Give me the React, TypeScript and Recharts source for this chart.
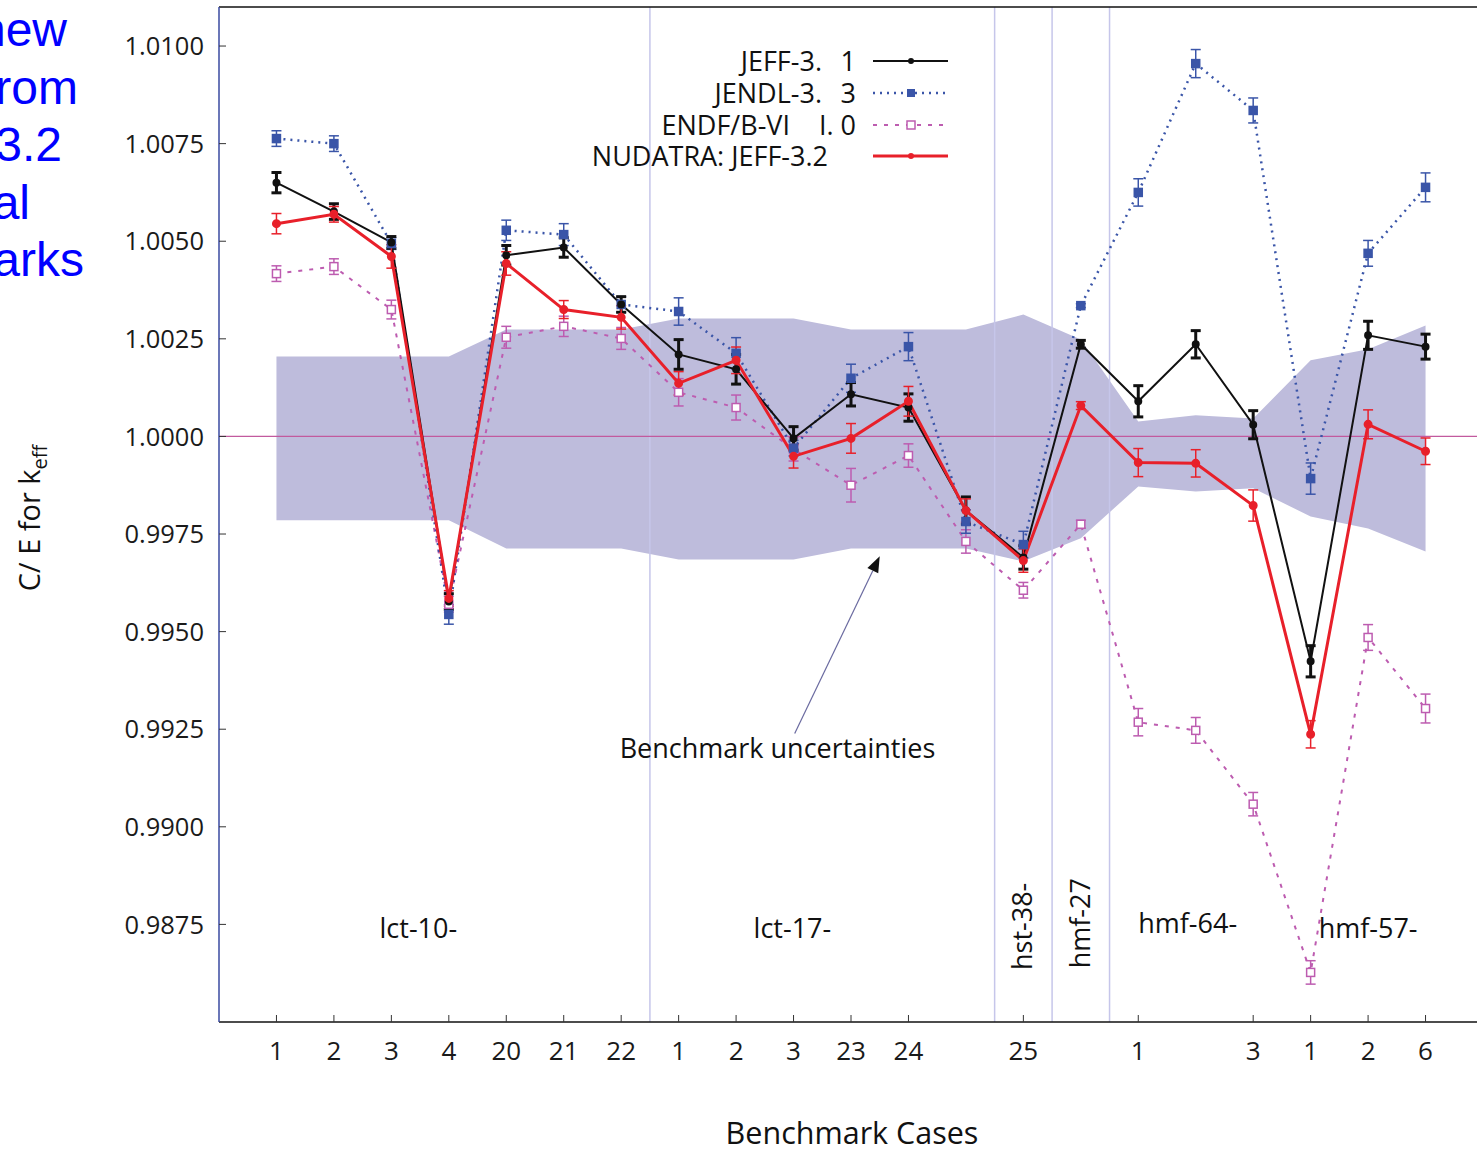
import React from "react";
import {
  Area,
  ComposedChart,
  ErrorBar,
  Legend,
  Line,
  ReferenceDot,
  ReferenceLine,
  XAxis,
  YAxis,
} from "recharts";

// case labels along the x axis (blank = no tick label)
const caseLabels = ["1", "2", "3", "4", "20", "21", "22", "1", "2", "3", "23", "24", "", "25", "", "1", "", "3", "1", "2", "6"];

const jeff31 = [1.0065, 1.00576, 1.00497, 0.99577, 1.00464, 1.00484, 1.00338, 1.0021, 1.00172, 0.99995, 1.00108, 1.00074, 0.9981, 0.9969, 1.00236, 1.0009, 1.00236, 1.0003, 0.99424, 1.00259, 1.0023];
const jeff31Err = [0.00026, 0.0002, 0.00015, 0.0002, 0.00025, 0.00025, 0.0002, 0.00038, 0.00038, 0.0003, 0.0003, 0.00035, 0.00035, 0.0003, 0.0001, 0.0004, 0.00035, 0.00036, 0.0004, 0.00036, 0.00032];

const jendl33 = [1.00763, 1.0075, 1.00494, 0.99544, 1.00528, 1.00517, 1.00338, 1.0032, 1.00213, 0.9997, 1.00149, 1.0023, 0.99782, 0.99723, 1.00335, 1.00625, 1.00955, 1.00835, 0.99892, 1.00469, 1.00638];
const jendl33Err = [0.0002, 0.0002, 0.00015, 0.00025, 0.00026, 0.00028, 0.0002, 0.00035, 0.0004, 0.0002, 0.00036, 0.00036, 0.0003, 0.00034, 0.00005, 0.00035, 0.00036, 0.00032, 0.0004, 0.00033, 0.00037];

const endf60 = [1.00417, 1.00435, 1.00325, 0.9957, 1.00254, 1.00282, 1.00251, 1.00113, 1.00074, 0.99967, 0.99875, 0.99951, 0.99731, 0.99606, 0.99775, 0.99268, 0.99247, 0.99058, 0.98627, 0.99485, 0.99303];
const endf60Err = [0.0002, 0.0002, 0.00024, 0.0002, 0.00028, 0.00026, 0.00028, 0.00035, 0.00032, 0.0003, 0.00043, 0.0003, 0.0003, 0.0002, 0.0001, 0.00035, 0.00033, 0.0003, 0.0003, 0.00033, 0.00037];

const nudatra = [1.00545, 1.00569, 1.00461, 0.99585, 1.00443, 1.00325, 1.00305, 1.00136, 1.00195, 0.99949, 0.99995, 1.0009, 0.9981, 0.99682, 1.00079, 0.99933, 0.99931, 0.99823, 0.99237, 1.00031, 0.99962];
const nudatraErr = [0.00026, 0.0002, 0.0003, 0.0002, 0.0003, 0.00023, 0.0003, 0.0003, 0.00034, 0.0003, 0.00038, 0.00038, 0.0003, 0.0003, 0.0001, 0.00036, 0.00035, 0.0004, 0.00035, 0.00037, 0.00034];

// benchmark uncertainty band
const bandLow = [0.99785, 0.99785, 0.99785, 0.99785, 0.99713, 0.99713, 0.99713, 0.99685, 0.99685, 0.99685, 0.99713, 0.99713, 0.99713, 0.9968, 0.99739, 0.99872, 0.99859, 0.99867, 0.99795, 0.99764, 0.99705];
const bandHigh = [1.00205, 1.00205, 1.00205, 1.00205, 1.00274, 1.00274, 1.00274, 1.00302, 1.00302, 1.00302, 1.00274, 1.00274, 1.00274, 1.00312, 1.00248, 1.00038, 1.00054, 1.00046, 1.00195, 1.00223, 1.00284];

const yTicks = [0.9875, 0.99, 0.9925, 0.995, 0.9975, 1.0, 1.0025, 1.005, 1.0075, 1.01];
const groupSeparators = [6.5, 12.5, 13.5, 14.5];

const groupNotes = [
  { x: 2.47, y: 0.9874, text: "lct-10-", vertical: false },
  { x: 8.98, y: 0.9874, text: "lct-17-", vertical: false },
  { x: 12.99, y: 0.98745, text: "hst-38-", vertical: true },
  { x: 13.99, y: 0.98753, text: "hmf-27", vertical: true },
  { x: 15.86, y: 0.98753, text: "hmf-64-", vertical: false },
  { x: 19.0, y: 0.9874, text: "hmf-57-", vertical: false },
  { x: 8.72, y: 0.99201, text: "Benchmark uncertainties", vertical: false },
];

const sideText = ["new", "rom", "3.2", "al", "arks"];
const sideTextRight = [67, 78, 62, 30, 84];

const data = caseLabels.map((label, i) => ({
  pos: i,
  label,
  jeff: jeff31[i],
  jeffErr: jeff31Err[i],
  jendl: jendl33[i],
  jendlErr: jendl33Err[i],
  endf: endf60[i],
  endfErr: endf60Err[i],
  nuda: nudatra[i],
  nudaErr: nudatraErr[i],
  band: [bandLow[i], bandHigh[i]],
}));

const FONT = '"Open Sans", "Noto Sans", sans-serif';
const PLOT_LEFT = 219;
const PLOT_BOTTOM = 1022;
const BLACK = "#111111";
const BLUE = "#3a55a8";
const PINK = "#bd5cb0";
const RED = "#e8202a";
const BAND = "#bebcdc";

const YTick = (props: any) => {
  const { y, payload } = props;
  return (
    <g>
      <line x1={PLOT_LEFT} x2={PLOT_LEFT + 7} y1={y} y2={y} stroke="#333" />
      <text x={PLOT_LEFT - 15} y={y} dy="0.36em" textAnchor="end" fontFamily={FONT} fontSize={25.5} fill="#1a1a1a">
        {payload.value.toFixed(4)}
      </text>
    </g>
  );
};

const XTick = (props: any) => {
  const { x, payload } = props;
  const label = caseLabels[payload.value];
  if (!label) return <g />;
  return (
    <g>
      <line x1={x} x2={x} y1={PLOT_BOTTOM} y2={PLOT_BOTTOM - 7} stroke="#333" />
      <text x={x} y={PLOT_BOTTOM + 29} dy="0.36em" textAnchor="middle" fontFamily={FONT} fontSize={26} fill="#1a1a1a">
        {label}
      </text>
    </g>
  );
};

const squareDot = (fill: string, stroke: string) => (props: any) => {
  const { cx, cy, index } = props;
  if (cx == null || cy == null) return <g key={index} />;
  return <rect key={index} x={cx - 4} y={cy - 4} width={8} height={8} fill={fill} stroke={stroke} strokeWidth={1.5} />;
};

const Arrow = (props: any) => {
  const { x1, y1, x2, y2 } = props;
  const ang = Math.atan2(y2 - y1, x2 - x1);
  const len = 16;
  const w = 6;
  const bx = x2 - len * Math.cos(ang);
  const by = y2 - len * Math.sin(ang);
  const px = -Math.sin(ang) * w;
  const py = Math.cos(ang) * w;
  return (
    <g>
      <line x1={x1} y1={y1} x2={bx} y2={by} stroke="#6a6aa0" strokeWidth={1.2} />
      <polygon points={`${x2},${y2} ${bx + px},${by + py} ${bx - px},${by - py}`} fill="#111" />
    </g>
  );
};

const legendRows = [
  { a: "JEFF-3.", b: "1", aEnd: 822, color: BLACK, dash: undefined, width: 2, marker: "dot", y: 61 },
  { a: "JENDL-3.", b: "3", aEnd: 822, color: BLUE, dash: "2 5", width: 2.5, marker: "fill", y: 93 },
  { a: "ENDF/B-VI", b: "I. 0", aEnd: 790, color: PINK, dash: "4 7", width: 2, marker: "open", y: 125 },
  { a: "NUDATRA: JEFF-3.2", b: "", aEnd: 828, color: RED, dash: undefined, width: 3, marker: "dot", y: 156 },
];

const LegendBox = () => (
  <svg width={1000} height={180} style={{ display: "block" }}>
    {legendRows.map((r) => (
      <g key={r.a}>
        <text x={r.aEnd} y={r.y} dy="0.36em" textAnchor="end" fontFamily={FONT} fontSize={27} fill="#111">
          {r.a}
        </text>
        {r.b && (
          <text x={856} y={r.y} dy="0.36em" textAnchor="end" fontFamily={FONT} fontSize={27} fill="#111">
            {r.b}
          </text>
        )}
        <line x1={873} x2={948} y1={r.y} y2={r.y} stroke={r.color} strokeWidth={r.width} strokeDasharray={r.dash} />
        {r.marker === "dot" && <circle cx={911} cy={r.y} r={3} fill={r.color} />}
        {r.marker === "fill" && <rect x={907} y={r.y - 4} width={8} height={8} fill={r.color} />}
        {r.marker === "open" && <rect x={907} y={r.y - 4} width={8} height={8} fill="#fff" stroke={r.color} strokeWidth={1.5} />}
      </g>
    ))}
  </svg>
);

const noteLabel = (text: string, vertical: boolean) => (props: any) => {
  const vb = props.viewBox || {};
  const x = vb.x ?? 0;
  const y = vb.y ?? 0;
  if (vertical) {
    return (
      <text x={x} y={y} dy="0.36em" textAnchor="middle" transform={`rotate(-90 ${x} ${y})`} fontFamily={FONT} fontSize={27} fill="#111">
        {text}
      </text>
    );
  }
  return (
    <text x={x} y={y} dy="0.36em" textAnchor="middle" fontFamily={FONT} fontSize={27} fill="#111">
      {text}
    </text>
  );
};

export default function App() {
  return (
    <div style={{ position: "absolute", left: 0, top: 0, width: 1477, height: 1149, overflow: "hidden", background: "#fff" }}>
      {sideText.map((t, i) => (
        <div
          key={t}
          style={{
            position: "absolute",
            left: sideTextRight[i] - 300,
            width: 300,
            top: 50 + i * 57.5 - 44,
            textAlign: "right",
            fontFamily: '"Liberation Sans", Arial, sans-serif',
            fontSize: 48,
            lineHeight: "48px",
            color: "#0000ff",
            zIndex: 2,
          }}
        >
          {t}
        </div>
      ))}
      <ComposedChart width={1490} height={1149} data={data} margin={{ top: 7, right: 7, left: 0, bottom: 0 }}>
        <XAxis
          type="number"
          dataKey="pos"
          domain={[-1, 21]}
          ticks={caseLabels.map((_, i) => i)}
          tick={<XTick />}
          tickLine={false}
          height={127}
          axisLine={{ stroke: "#111", strokeWidth: 1.5 }}
          allowDataOverflow
          label={(p: any) => (
            <text x={852} y={1133} dy="0.36em" textAnchor="middle" fontFamily={FONT} fontSize={30.5} fill="#111">
              Benchmark Cases
            </text>
          )}
        />
        <YAxis
          type="number"
          domain={[0.985, 1.011]}
          ticks={yTicks}
          tick={<YTick />}
          tickLine={false}
          width={219}
          axisLine={{ stroke: "#3a4aa0", strokeWidth: 1.5 }}
          allowDataOverflow
          label={(p: any) => (
            <text x={40} y={518} textAnchor="middle" transform="rotate(-90 40 518)" fontFamily={FONT} fontSize={29} fill="#111">
              C/ E for k
              <tspan fontSize={20} dy={7}>eff</tspan>
            </text>
          )}
        />
        <Area
          type="linear"
          dataKey="band"
          stroke="none"
          fill={BAND}
          fillOpacity={1}
          isAnimationActive={false}
          dot={false}
          activeDot={false}
        />
        {groupSeparators.map((x) => (
          <ReferenceLine key={x} x={x} stroke="#c6c6ea" strokeWidth={1.5} />
        ))}
        <ReferenceLine y={1.0} stroke="#c25a9e" strokeWidth={1.3} />
        <ReferenceLine y={1.011} stroke="#111" strokeWidth={1.5} />
        <ReferenceLine
          segment={[
            { x: 9.02, y: 0.99239 },
            { x: 10.5, y: 0.99693 },
          ]}
          shape={(p: any) => <Arrow {...p} />}
        />
        <Line
          type="linear"
          dataKey="endf"
          stroke={PINK}
          strokeWidth={2}
          strokeDasharray="4 7"
          dot={squareDot("#fff", PINK)}
          activeDot={false}
          isAnimationActive={false}
        >
          <ErrorBar dataKey="endfErr" direction="y" width={5} stroke={PINK} strokeWidth={1.5} />
        </Line>
        <Line
          type="linear"
          dataKey="jendl"
          stroke={BLUE}
          strokeWidth={2.5}
          strokeDasharray="2 5"
          dot={squareDot(BLUE, BLUE)}
          activeDot={false}
          isAnimationActive={false}
        >
          <ErrorBar dataKey="jendlErr" direction="y" width={5} stroke={BLUE} strokeWidth={1.5} />
        </Line>
        <Line
          type="linear"
          dataKey="jeff"
          stroke={BLACK}
          strokeWidth={2}
          dot={{ r: 3, fill: BLACK, stroke: BLACK }}
          activeDot={false}
          isAnimationActive={false}
        >
          <ErrorBar dataKey="jeffErr" direction="y" width={5} stroke={BLACK} strokeWidth={3} />
        </Line>
        <Line
          type="linear"
          dataKey="nuda"
          stroke={RED}
          strokeWidth={3}
          dot={{ r: 3, fill: RED, stroke: RED }}
          activeDot={false}
          isAnimationActive={false}
        >
          <ErrorBar dataKey="nudaErr" direction="y" width={5} stroke={RED} strokeWidth={1.5} />
        </Line>
        {groupNotes.map((n) => (
          <ReferenceDot key={n.text} x={n.x} y={n.y} r={0} fill="none" stroke="none" label={noteLabel(n.text, n.vertical)} />
        ))}
        <Legend
          layout="horizontal"
          verticalAlign="middle"
          align="center"
          wrapperStyle={{ top: 0, left: 0, width: 1000, height: 180 }}
          content={() => <LegendBox />}
        />
      </ComposedChart>
    </div>
  );
}
